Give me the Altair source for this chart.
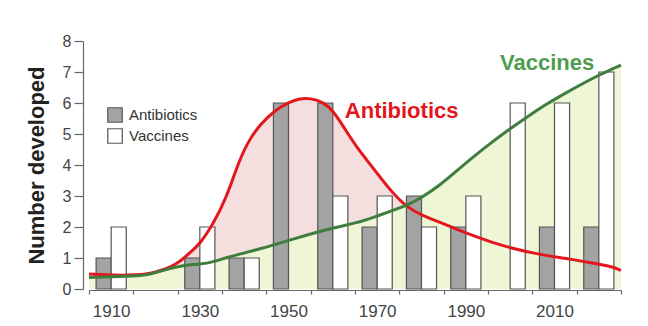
import altair as alt
import pandas as pd

# Bars: decade counts
decades = [1910, 1920, 1930, 1940, 1950, 1960, 1970, 1980, 1990, 2000, 2010, 2020]
antibiotics = [1, 0, 1, 1, 6, 6, 2, 3, 2, 0, 2, 2]
vaccines = [2, 0, 2, 1, 0, 3, 3, 2, 3, 6, 6, 7]

# Smoothed trend curves
red_years = [1905, 1911, 1916, 1919, 1921, 1923.5, 1925.5, 1928, 1930, 1933, 1936,
             1938.3, 1940.6, 1943.6, 1947.3, 1950, 1952.6, 1955, 1957.5, 1960, 1963,
             1965.5, 1969, 1973, 1976.7, 1980.4, 1984.2, 1988, 1992, 1996, 2000, 2006,
             2012, 2019.5, 2023, 2025]
red_vals = [0.48, 0.44, 0.45, 0.50, 0.59, 0.72, 0.88, 1.20, 1.45, 2.09, 2.95,
            3.92, 4.70, 5.32, 5.80, 6.02, 6.15, 6.15, 6.05, 5.78, 5.10,
            4.55, 3.92, 3.17, 2.63, 2.36, 2.15, 1.92, 1.70, 1.50, 1.33, 1.13,
            1.00, 0.82, 0.72, 0.60]
green_years = [1905, 1912, 1917, 1919, 1921, 1924, 1928.5, 1932, 1936, 1943.6, 1951,
               1958.6, 1966, 1969, 1976.7, 1980, 1984, 1988, 1992, 1996, 2000,
               2004, 2008, 2012, 2016, 2020, 2022, 2025]
green_vals = [0.37, 0.40, 0.43, 0.48, 0.57, 0.70, 0.80, 0.82, 1.02, 1.29, 1.61,
              1.93, 2.15, 2.31, 2.68, 2.95, 3.33, 3.82, 4.30, 4.75, 5.17,
              5.57, 5.95, 6.28, 6.60, 6.90, 7.03, 7.22]

series_names = ["Antibiotics", "Vaccines"]
label_years = [1962.7, 1997.7]
label_vals = [5.75, 7.30]

RED = "#e3161c"
GREEN = "#3e7d3e"
GREEN_TEXT = "#4f9c4f"
PINK_FILL = "#f4dede"
GREEN_FILL = "#eef6d5"
BAR_GRAY = "#a3a3a3"
BAR_STROKE = "#555555"

bars = pd.DataFrame(
    [{"decade": d, "type": "Antibiotics", "count": a} for d, a in zip(decades, antibiotics)]
    + [{"decade": d, "type": "Vaccines", "count": v} for d, v in zip(decades, vaccines)]
)
bars = bars[bars["count"] > 0]

red_df = pd.DataFrame({"year": red_years, "value": red_vals})
green_df = pd.DataFrame({"year": green_years, "value": green_vals})
labels_df = pd.DataFrame({"name": series_names, "year": label_years, "value": label_vals})

x_scale = alt.Scale(domain=[1905, 2025], nice=False, zero=False)
y_scale = alt.Scale(domain=[0, 8], nice=False)

x_axis = alt.Axis(
    title=None,
    values=list(range(1905, 2026, 5)),
    format="d",
    labelExpr="datum.value % 20 === 10 ? datum.label : ''",
    labelOverlap=False,
    labelFlush=False,
    labelBound=False,
    grid=False,
    domainColor="#666666",
    domainWidth=1.2,
    tickColor="#666666",
    tickWidth=1.2,
    tickSize=4,
    tickOpacity={"condition": {"test": "datum.value % 10 === 5", "value": 1}, "value": 0},
    offset=1,
    labelFontSize=17,
    labelColor="#444444",
    labelPadding=9,
    labelFont="Liberation Sans",
)
y_axis = alt.Axis(
    title="Number developed",
    values=list(range(0, 9)),
    grid=False,
    domainColor="#666666",
    domainWidth=1.2,
    tickColor="#666666",
    tickWidth=1.2,
    tickSize=9,
    offset=6,
    labelFontSize=16,
    labelColor="#444444",
    labelPadding=3,
    labelFont="Liberation Sans",
    titleFont="Liberation Sans",
    titleFontSize=22,
    titleFontWeight="bold",
    titleColor="#222222",
    titlePadding=14,
)

X = lambda f: alt.X(f, type="quantitative", scale=x_scale, axis=x_axis)
Y = lambda f: alt.Y(f, type="quantitative", scale=y_scale, axis=y_axis)

pink_area = alt.Chart(red_df).mark_area(color=PINK_FILL, interpolate="basis").encode(
    x=X("year"), y=Y("value")
)
green_area = alt.Chart(green_df).mark_area(color=GREEN_FILL, interpolate="basis").encode(
    x=X("year"), y=Y("value")
)

bar_layer = alt.Chart(bars).transform_calculate(
    x0="datum.type === 'Antibiotics' ? datum.decade - 3.4 : datum.decade",
    x1="datum.type === 'Antibiotics' ? datum.decade : datum.decade + 3.4",
    base="0",
).mark_rect(stroke=BAR_STROKE, strokeWidth=1.2, opacity=1).encode(
    x=X("x0"),
    x2="x1:Q",
    y=Y("count"),
    y2="base:Q",
    fill=alt.Fill(
        "type:N",
        scale=alt.Scale(domain=series_names, range=[BAR_GRAY, "#ffffff"]),
        legend=alt.Legend(
            title=None,
            orient="none",
            legendX=18,
            legendY=66,
            symbolType="square",
            symbolSize=210,
            symbolStrokeColor=BAR_STROKE,
            symbolStrokeWidth=1.2,
            symbolOpacity=1,
            labelFontSize=15,
            labelFont="Liberation Sans",
            labelColor="#333333",
            labelOffset=6,
            rowPadding=1,
            padding=0,
        ),
    ),
)

red_line = alt.Chart(red_df).mark_line(color=RED, strokeWidth=3, interpolate="basis").encode(
    x=X("year"), y=Y("value")
)
green_line = alt.Chart(green_df).mark_line(color=GREEN, strokeWidth=3, interpolate="basis").encode(
    x=X("year"), y=Y("value")
)

text_layer = alt.Chart(labels_df).mark_text(
    align="left", baseline="middle", fontSize=22, fontWeight="bold", font="Liberation Sans"
).encode(
    x=X("year"),
    y=Y("value"),
    text="name:N",
    color=alt.Color("name:N", scale=alt.Scale(domain=series_names, range=[RED, GREEN_TEXT]), legend=None),
)

chart = alt.layer(
    pink_area, green_area, bar_layer, red_line, green_line, text_layer
).properties(
    width=532,
    height=248,
    padding={"left": 89, "top": 41, "right": 27, "bottom": 37},
    autosize=alt.AutoSizeParams(type="none"),
    background="white",
).configure_view(stroke=None)

chart.save("out.html", embed_options={"renderer": "svg", "actions": False})
